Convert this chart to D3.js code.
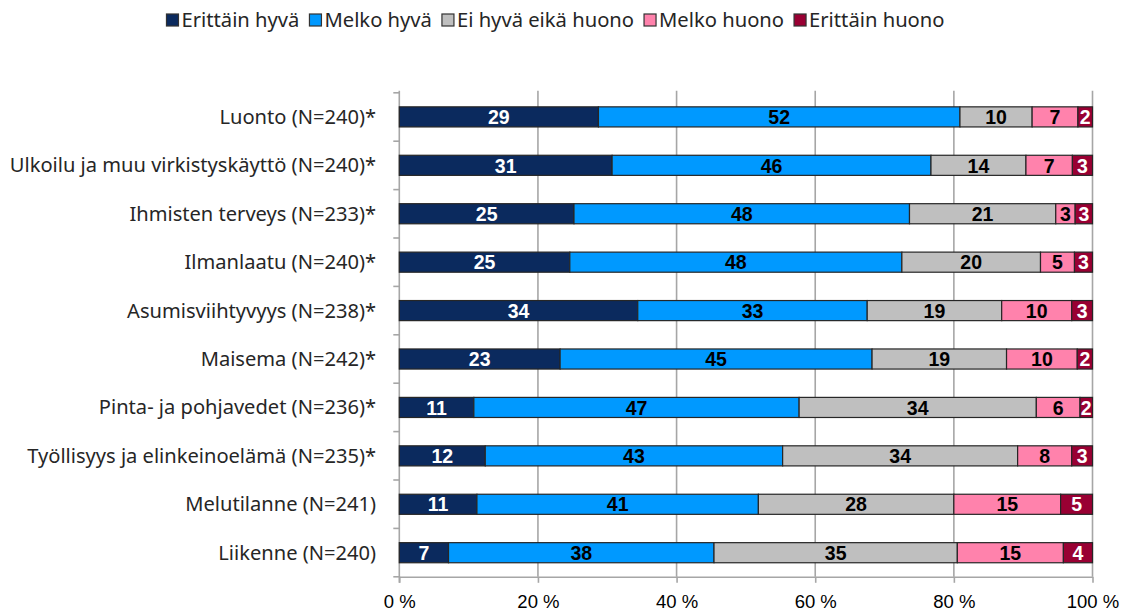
<!DOCTYPE html>
<html><head><meta charset="utf-8">
<script src="https://cdn.jsdelivr.net/npm/d3@7"></script>
<style>body{margin:0;background:#fff}svg{display:block}</style>
</head><body>
<svg id="c" width="1127" height="612"></svg>
<script>
const categories = [
  "Luonto (N=240)*",
  "Ulkoilu ja muu virkistyskäyttö (N=240)*",
  "Ihmisten terveys (N=233)*",
  "Ilmanlaatu (N=240)*",
  "Asumisviihtyvyys (N=238)*",
  "Maisema (N=242)*",
  "Pinta- ja pohjavedet (N=236)*",
  "Työllisyys ja elinkeinoelämä (N=235)*",
  "Melutilanne (N=241)",
  "Liikenne (N=240)"
];
const seriesNames = ["Erittäin hyvä","Melko hyvä","Ei hyvä eikä huono","Melko huono","Erittäin huono"];
const erittainHyva = [28.7, 30.7, 25.2, 24.6, 34.4, 23.2, 10.75, 12.4, 11.2, 7.1];
const melkoHyva    = [52.1, 46.0, 48.4, 47.9, 33.1, 45.0, 46.9, 42.9, 40.6, 38.3];
const eiHyvaEikaHuono = [10.4, 13.7, 21.1, 20.0, 19.4, 19.4, 34.2, 33.9, 28.2, 35.1];
const melkoHuono   = [6.6, 6.7, 2.8, 4.9, 10.1, 10.2, 6.3, 7.8, 15.4, 15.3];
const erittainHuono= [2.1, 2.9, 2.5, 2.6, 3.0, 2.2, 1.8, 3.0, 4.6, 4.2];
const xTicks = [0, 20, 40, 60, 80, 100];

const colors = ["#0B2A5E","#0099FF","#BFBFBF","#FF82AC","#990033"];
const labelColors = ["#fff","#000","#000","#000","#fff"];
const seriesValues = [erittainHyva, melkoHyva, eiHyvaEikaHuono, melkoHuono, erittainHuono];

const rows = categories.map((c,i)=>{
  const o = {cat:c};
  seriesNames.forEach((s,j)=>o[s]=seriesValues[j][i]);
  return o;
});
const stack = d3.stack().keys(seriesNames).offset(d3.stackOffsetExpand);
const stacked = stack(rows);

const svg = d3.select("#c");
const pLeft = 399.3, pRight = 1092.5, pTop = 92.8, pBottom = 576.8;
const x = d3.scaleLinear().domain([0,1]).range([pLeft,pRight]);
const y = d3.scaleBand().domain(categories).range([pTop,pBottom]).paddingInner(0.585).paddingOuter(0.29);

const gridColor = "#A6A6A6";
const catFont = "'Noto Sans',sans-serif";
const numFont = "'Liberation Sans Narrow','Liberation Sans',sans-serif";

svg.append("g").selectAll("line").data(xTicks.slice(1)).join("line")
  .attr("x1",d=>x(d/100)).attr("x2",d=>x(d/100))
  .attr("y1",pTop-2).attr("y2",pBottom)
  .attr("stroke",gridColor).attr("stroke-width",1.6);

const xa = svg.append("g").attr("transform",`translate(0,${pBottom})`)
  .call(d3.axisBottom(x).tickValues(xTicks.map(d=>d/100)).tickFormat(d=>Math.round(d*100)+" %").tickSize(6).tickSizeOuter(0));
xa.select(".domain").attr("stroke",gridColor).attr("stroke-width",1.6);
xa.selectAll(".tick line").attr("stroke",gridColor).attr("stroke-width",1.6);
xa.selectAll(".tick text").attr("font-family",numFont)
  .attr("font-size",18.5).attr("fill","#000").attr("dy","1.2em");

const yTickPos = d3.range(categories.length+1).map(i=>pTop + i*(pBottom-pTop)/categories.length);
svg.append("line").attr("x1",pLeft).attr("x2",pLeft).attr("y1",pTop-2).attr("y2",pBottom+6)
  .attr("stroke",gridColor).attr("stroke-width",1.6);
svg.append("g").selectAll("line").data(yTickPos).join("line")
  .attr("x1",pLeft-6).attr("x2",pLeft).attr("y1",d=>d).attr("y2",d=>d)
  .attr("stroke",gridColor).attr("stroke-width",1.6);
svg.append("g").selectAll("text").data(categories).join("text")
  .attr("x",376).attr("y",d=>y(d)+y.bandwidth()/2).attr("dy","0.35em")
  .attr("text-anchor","end").attr("font-family",catFont).attr("font-size",20.1)
  .attr("fill","#262626").text(d=>d);

const g = svg.append("g");
stacked.forEach((s,j)=>{
  const gs = g.append("g");
  gs.selectAll("rect").data(s).join("rect")
    .attr("x",d=>x(d[0])).attr("width",d=>x(d[1])-x(d[0]))
    .attr("y",d=>y(d.data.cat)).attr("height",y.bandwidth())
    .attr("fill",colors[j]).attr("stroke","#262626").attr("stroke-width",1.2);
  gs.selectAll("text").data(s).join("text")
    .attr("x",d=>(x(d[0])+x(d[1]))/2).attr("y",d=>y(d.data.cat)+y.bandwidth()/2).attr("dy","0.37em")
    .attr("text-anchor","middle").attr("font-family",numFont)
    .attr("font-weight","bold").attr("font-size",19.5).attr("fill",labelColors[j])
    .text(d=>Math.round(d.data[seriesNames[j]]));
});

const lg = svg.append("g");
let cx = 0;
seriesNames.forEach((s,j)=>{
  const it = lg.append("g").attr("transform",`translate(${cx},0)`);
  it.append("rect").attr("x",0).attr("y",-6).attr("width",12).attr("height",12)
    .attr("fill",colors[j]).attr("stroke","#333").attr("stroke-width",1.2);
  const t = it.append("text").attr("x",15).attr("y",0).attr("dy","0.35em")
    .attr("font-family",catFont).attr("font-size",20.2).attr("fill","#262626").text(s);
  cx += 15 + t.node().getComputedTextLength() + 10;
});
const lw = cx - 10;
lg.attr("transform",`translate(${555.5 - lw/2},20)`);
</script>
</body></html>
